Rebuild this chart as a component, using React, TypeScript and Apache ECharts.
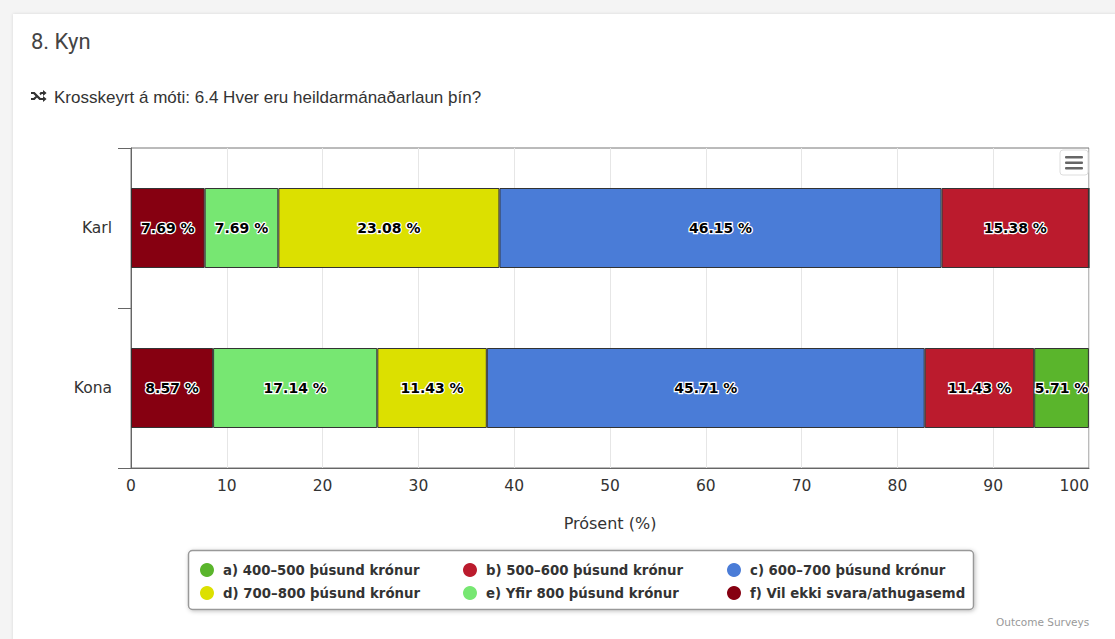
import React, { useEffect, useRef } from "react";
import * as echarts from "echarts";

const categories = ["Karl", "Kona"];
const seriesNames = [
  "a) 400–500 þúsund krónur",
  "b) 500–600 þúsund krónur",
  "c) 600–700 þúsund krónur",
  "d) 700–800 þúsund krónur",
  "e) Yfir 800 þúsund krónur",
  "f) Vil ekki svara/athugasemd",
];
const valuesA = [0, 5.71];
const valuesB = [15.38, 11.43];
const valuesC = [46.15, 45.71];
const valuesD = [23.08, 11.43];
const valuesE = [7.69, 17.14];
const valuesF = [7.69, 8.57];
const xTicks = [0, 10, 20, 30, 40, 50, 60, 70, 80, 90, 100];
const colors = ["#5ab52c", "#bb1b2d", "#4a7cd7", "#dce000", "#77e772", "#860011"];

const FONT = "'DejaVu Sans', Verdana, sans-serif";

export default function App() {
  const ref = useRef<HTMLDivElement>(null);
  useEffect(() => {
    if (!ref.current) return;
    echarts.graphic.registerShape(
      "shuffle",
      echarts.graphic.extendPath(
        "M0 3 L3 3 L8 9 L10 9 L10 7 L13 10 L10 13 L10 11 L7 11 L2 5 L0 5 Z M0 9 L2 9 L4 7 L5 8.5 L3 11 L0 11 Z M7 4.5 L8 3 L10 3 L10 1 L13 4 L10 7 L10 5 L9 5 L8 6.2 Z",
        {}
      )
    );
    const chart = echarts.init(ref.current, null, { renderer: "svg" });
    const valueSets = [valuesA, valuesB, valuesC, valuesD, valuesE, valuesF];
    // stacking order from left: f, e, d, c, b, a
    const order = [5, 4, 3, 2, 1, 0];
    const series = order.map((i) => ({
      name: seriesNames[i],
      type: "bar",
      stack: "total",
      barWidth: "50%",
      data: valueSets[i],
      itemStyle: { color: colors[i], borderColor: "#333", borderWidth: 1 },
      label: {
        show: true,
        position: "inside",
        formatter: (p: any) => (p.value > 0 ? `${p.value.toFixed(2)} %` : ""),
        color: "#000",
        fontFamily: FONT,
        fontWeight: "bold",
        fontSize: 14,
        textBorderColor: "#fff",
        textBorderWidth: 2.5,
      },
    }));
    const legendCommon = {
      orient: "vertical",
      icon: "circle",
      itemWidth: 14,
      itemHeight: 14,
      itemGap: 9,
      itemStyle: { borderWidth: 0 },
      textStyle: {
        fontFamily: FONT,
        fontSize: 13.3,
        fontWeight: "bold",
        color: "#333",
        lineHeight: 14,
        padding: [0, 0, 0, 4],
      },
      selectedMode: true,
    };
    chart.setOption({
      animation: false,
      backgroundColor: "transparent",
      title: [
        {
          text: "8. Kyn",
          left: 26,
          top: 25,
          textStyle: { fontFamily: "Roboto, sans-serif", fontSize: 22, fontWeight: "normal", color: "#444" },
        },
        {
          text: "Krosskeyrt á móti: 6.4 Hver eru heildarmánaðarlaun þín?",
          left: 49,
          top: 84,
          textStyle: { fontFamily: "'Liberation Sans', Arial, sans-serif", fontSize: 17, fontWeight: "normal", color: "#333" },
        },
        {
          text: "Outcome Surveys",
          left: 991,
          top: 611,
          textStyle: { fontFamily: FONT, fontSize: 10.5, fontWeight: "normal", color: "#999" },
        },
      ],
      grid: {
        left: 131,
        right: 26,
        top: 148,
        bottom: 171,
        show: true,
        borderColor: "#777",
        borderWidth: 1,
      },
      xAxis: {
        type: "value",
        min: 0,
        max: 100,
        interval: 10,
        name: "Prósent (%)",
        nameLocation: "middle",
        nameGap: 47,
        nameTextStyle: { fontFamily: FONT, fontSize: 16, color: "#333" },
        axisLine: { show: true, lineStyle: { color: "#666" } },
        axisTick: { show: false },
        splitLine: { show: true, lineStyle: { color: "#e6e6e6" } },
        axisLabel: {
          fontFamily: FONT,
          fontSize: 15.5,
          color: "#333",
          margin: 10,
          alignMaxLabel: "right",
          formatter: (v: number) => (xTicks.includes(v) ? String(v) : ""),
        },
      },
      yAxis: {
        type: "category",
        data: categories,
        inverse: true,
        axisLine: { show: true, lineStyle: { color: "#666" } },
        axisTick: { show: true, length: 13, lineStyle: { color: "#666" } },
        axisLabel: { fontFamily: FONT, fontSize: 15.5, color: "#333", margin: 19 },
      },
      legend: [
        { ...legendCommon, left: 195, top: 558, data: [seriesNames[0], seriesNames[3]] },
        { ...legendCommon, left: 458, top: 558, data: [seriesNames[1], seriesNames[4]] },
        { ...legendCommon, left: 722, top: 558, data: [seriesNames[2], seriesNames[5]] },
      ],
      graphic: [
        {
          type: "rect",
          shape: { x: 188.5, y: 550.5, width: 785, height: 59, r: 4 },
          style: {
            fill: "#fff",
            stroke: "#999",
            lineWidth: 1.5,
            shadowBlur: 4,
            shadowColor: "rgba(0,0,0,0.25)",
            shadowOffsetX: 1,
            shadowOffsetY: 1,
          },
          z: -1,
        },
        {
          type: "rect",
          shape: { x: 1060, y: 150, width: 28, height: 25, r: 3 },
          style: { fill: "#fff", stroke: "#ddd", lineWidth: 1 },
          z: 10,
        },
        {
          type: "rect",
          shape: { x: 1065, y: 156, width: 18, height: 2.5, r: 1 },
          style: { fill: "#666" },
          z: 12,
        },
        {
          type: "rect",
          shape: { x: 1065, y: 161.5, width: 18, height: 2.5, r: 1 },
          style: { fill: "#666" },
          z: 12,
        },
        {
          type: "rect",
          shape: { x: 1065, y: 167, width: 18, height: 2.5, r: 1 },
          style: { fill: "#666" },
          z: 12,
        },
        {
          type: "shuffle",
          x: 31,
          y: 89,
          scaleX: 1.2,
          scaleY: 1,
          style: { fill: "#333" },
        },
      ],
      series,
    });
    return () => chart.dispose();
  }, []);

  return (
    <div
      style={{
        position: "fixed",
        left: 0,
        top: 0,
        width: 1115,
        height: 639,
        background: "#f4f4f4",
        overflow: "hidden",
      }}
    >
      <div
        style={{
          position: "absolute",
          left: 13,
          top: 14,
          width: 1115,
          height: 639,
          background: "#fff",
          boxShadow: "0 0 3px rgba(0,0,0,0.12)",
        }}
      />
      <div ref={ref} style={{ position: "absolute", left: 0, top: 0, width: 1115, height: 639 }} />
    </div>
  );
}
